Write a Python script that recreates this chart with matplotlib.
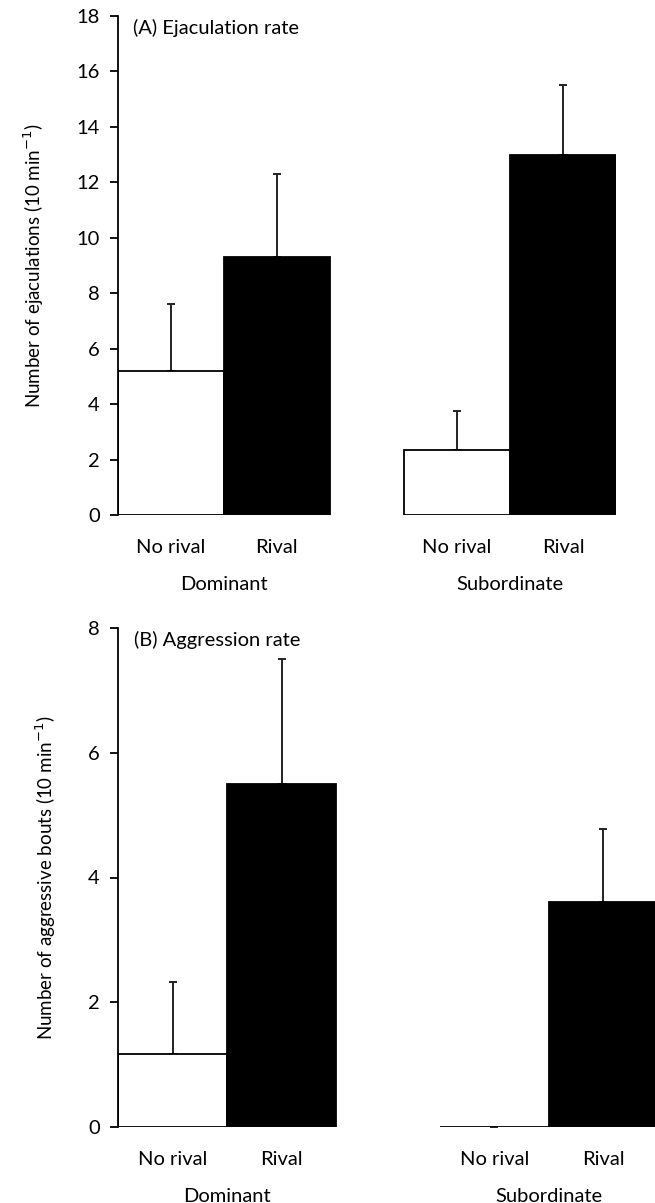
import matplotlib.pyplot as plt

plt.rcParams['font.family'] = ['Lato', 'DejaVu Sans']

conditions = ['No rival', 'Rival', 'No rival', 'Rival']
groups = ['Dominant', 'Subordinate']

ejac_mean = [5.2, 9.3, 2.35, 13.0]
ejac_err = [2.4, 3.0, 1.4, 2.5]

aggr_mean = [1.17, 5.5, 0.0, 3.6]
aggr_err = [1.15, 2.0, 0.0, 1.17]

bar_colors = ['white', 'black', 'white', 'black']

fig = plt.figure(figsize=(6.55, 12.03), dpi=100)
W, H = 655, 1203


def panel(rect, xpos, means, errs, ymax, step, title, ylabel, xmax):
    l, t, r, b = rect
    ax = fig.add_axes([l / W, 1 - b / H, (r - l) / W, (b - t) / H])
    ax.bar(xpos, means, width=1.0, color=bar_colors, edgecolor='black',
           linewidth=1.3, zorder=2)
    up = [e if e > 0 else 0 for e in errs]
    ax.errorbar(xpos, means, yerr=[[0] * len(up), up], fmt='none',
                ecolor='#222222', elinewidth=1.4, capsize=3, capthick=1.4,
                zorder=1)
    ax.set_xlim(0, xmax)
    ax.set_ylim(0, ymax)
    ax.set_yticks(range(0, ymax + 1, step))
    for s in ['top', 'right', 'bottom']:
        ax.spines[s].set_visible(False)
    ax.spines['left'].set_linewidth(1.3)
    ax.tick_params(axis='y', direction='out', length=6, width=1.3,
                   labelsize=14.5, pad=7)
    ax.set_xticks(xpos)
    ax.set_xticklabels(conditions, fontsize=14.5)
    ax.tick_params(axis='x', length=0, pad=17)
    ax.set_ylabel(ylabel, fontsize=13.5, labelpad=22)
    ax.text(0.03, 0.995, title, transform=ax.transAxes, fontsize=14.5,
            va='top', ha='left')
    for g, name in enumerate(groups):
        cx = (xpos[2 * g] + xpos[2 * g + 1]) / 2
        ax.annotate(name, xy=(cx, 0), xycoords=('data', 'axes fraction'),
                    xytext=(0, -50), textcoords='offset points',
                    ha='center', va='center', fontsize=14.5)
    return ax


panel((118, 16, 616, 515), [0.5, 1.5, 3.2, 4.2], ejac_mean, ejac_err, 18, 2,
      '(A) Ejaculation rate', 'Number of ejaculations (10 min$^{-1}$)', 4.7)
panel((118, 628, 658, 1127), [0.5, 1.5, 3.45, 4.45], aggr_mean, aggr_err, 8, 2,
      '(B) Aggression rate', 'Number of aggressive bouts (10 min$^{-1}$)', 4.95)

fig.savefig('out.png', dpi=100)
